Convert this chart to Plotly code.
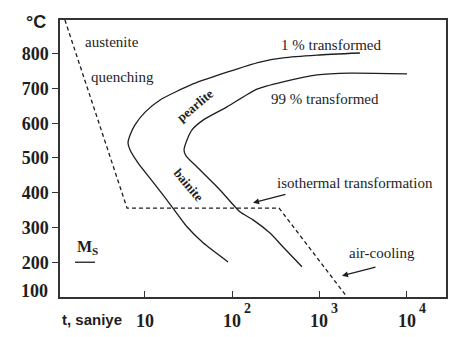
import numpy as np
import plotly.graph_objects as go

# ---- data (time in seconds, temperature in °C) ----
time_1pct = [2917, 940, 384, 209, 87.5, 35.7, 15.0, 10.1, 7.74, 6.80, 6.44, 6.80, 8.38, 12.4, 18.0, 30.5, 46.6, 90]
temp_1pct = [802, 796, 788, 776, 747, 713, 667, 632, 595, 566, 543, 523, 486, 431, 379, 302, 256, 201]

time_99pct = [10090, 2244, 940, 384, 193, 87.5, 46.6, 34.8, 30.5, 28.2, 29.7, 39.7, 72.8, 123, 174, 272, 384, 632]
temp_99pct = [742, 744, 739, 719, 698, 647, 609, 581, 552, 523, 506, 474, 408, 345, 322, 284, 244, 187]

cool_time = [1.22, 6.27, 345, 2075]
cool_temp = [897, 356, 356, 100]

ms_temp = 200
ms_time = [1.59, 2.70]

y_ticks = [200, 300, 400, 500, 600, 700, 800]
x_ticks = [10, 100, 1000, 10000]
x_tick_base = ["10", "10", "10", "10"]
x_tick_exp = ["", "2", "3", "4"]

INK = "#1e1e1e"
SERIF = "Liberation Serif"
SANS = "Liberation Sans"

fig = go.Figure()
fig.add_trace(go.Scatter(x=time_1pct, y=temp_1pct, mode="lines",
                         line=dict(color=INK, width=1.3, shape="spline", smoothing=0.6),
                         hoverinfo="skip", showlegend=False))
fig.add_trace(go.Scatter(x=time_99pct, y=temp_99pct, mode="lines",
                         line=dict(color=INK, width=1.3, shape="spline", smoothing=0.6),
                         hoverinfo="skip", showlegend=False))
fig.add_trace(go.Scatter(x=cool_time, y=cool_temp, mode="lines",
                         line=dict(color=INK, width=1.3, dash="4px,3px"),
                         hoverinfo="skip", showlegend=False))
fig.add_trace(go.Scatter(x=ms_time, y=[ms_temp, ms_temp], mode="lines",
                         line=dict(color=INK, width=1.3),
                         hoverinfo="skip", showlegend=False))

L = np.log10
ann = []

def txt(x, y, s, size=15, angle=0, bold=False, xanchor="center"):
    ann.append(dict(x=L(x), y=y, xref="x", yref="y", text=s, showarrow=False,
                    textangle=angle, xanchor=xanchor, yanchor="middle",
                    font=dict(family=SERIF, size=size, color=INK,
                              weight=700 if bold else 400)))

txt(4.23, 834, "austenite")
txt(5.5, 733, "quenching")
txt(1358, 825, "1 % transformed")
txt(1161, 670, "99 % transformed")
txt(37.7, 650, "pearlite", size=13, angle=-40, bold=True)
txt(32.1, 420, "bainite", size=13, angle=50, bold=True)
txt(2559, 428, "isothermal transformation")
txt(5212, 227, "air-cooling")
txt(1.59, 241, "M<sub>S</sub>", size=16, bold=True, xanchor="left")

# arrows
ann.append(dict(x=L(174), y=371, ax=L(426), ay=396.5, xref="x", yref="y",
                axref="x", ayref="y", text="", showarrow=True,
                arrowhead=2, arrowsize=1, arrowwidth=1.2, arrowcolor=INK))
ann.append(dict(x=L(1815), y=161, ax=L(4571), ay=187, xref="x", yref="y",
                axref="x", ayref="y", text="", showarrow=True,
                arrowhead=2, arrowsize=1, arrowwidth=1.2, arrowcolor=INK))

# x tick labels (base centred on tick, exponent raised to the right)
for v, b, e in zip(x_ticks, x_tick_base, x_tick_exp):
    ann.append(dict(x=L(v), y=0, xref="x", yref="paper", text=b, showarrow=False,
                    xanchor="center", yanchor="middle", yshift=-24,
                    font=dict(family=SERIF, size=18, color=INK, weight=700)))
    if e:
        ann.append(dict(x=L(v), y=0, xref="x", yref="paper", text=e, showarrow=False,
                        xanchor="left", yanchor="middle", xshift=10, yshift=-11,
                        font=dict(family=SERIF, size=14, color=INK, weight=700)))
# extra y label 100
ann.append(dict(x=0, y=100, xref="paper", yref="y", text="100", showarrow=False,
                xanchor="right", yanchor="middle", xshift=-10, yshift=6,
                font=dict(family=SERIF, size=18, color=INK, weight=700)))
# axis titles
ann.append(dict(x=-0.062, y=0.993, xref="paper", yref="paper", text="°C", showarrow=False,
                xanchor="center", yanchor="middle",
                font=dict(family=SANS, size=18, color=INK, weight=700)))
ann.append(dict(x=0, y=-0.083, xref="paper", yref="paper", text="t, saniye", showarrow=False,
                xanchor="left", yanchor="middle",
                font=dict(family=SANS, size=15, color=INK, weight=700)))

fig.update_layout(
    width=474, height=337,
    margin=dict(l=60, r=28, t=20, b=40),
    paper_bgcolor="white", plot_bgcolor="white",
    annotations=ann,
    xaxis=dict(type="log", range=[0.03, 4.45], showgrid=False, zeroline=False,
               showline=True, linecolor="#333", linewidth=1.5, mirror=True,
               ticks="inside", ticklen=6, tickcolor="#333", tickwidth=1.2,
               tickvals=x_ticks, showticklabels=False),
    yaxis=dict(range=[100, 897], showgrid=False, zeroline=False,
               showline=True, linecolor="#333", linewidth=1.5, mirror=True,
               ticks="outside", ticklen=6, tickcolor="#333", tickwidth=1.2,
               tickvals=y_ticks,
               tickfont=dict(family=SERIF, size=18, color=INK, weight=700)),
)

fig.write_html("out.html")
